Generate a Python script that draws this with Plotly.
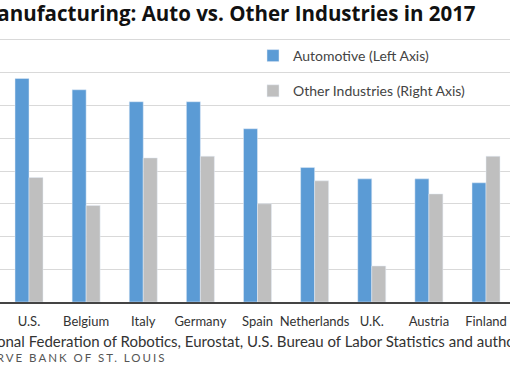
import plotly.graph_objects as go

countries = ["U.S.", "Belgium", "Italy", "Germany", "Spain", "Netherlands", "U.K.", "Austria", "Finland"]
automotive = [1365, 1296, 1223, 1223, 1058, 821, 752, 752, 728]
other_industries = [76, 59, 88, 89, 60, 74, 22, 66, 89]

BLUE = "#5b9bd5"
GRAY = "#bfbfbf"
FONT = "Lato"
W, H = 510, 382
T, B = 40, 80
PH = H - T - B

fig = go.Figure()
fig.add_trace(go.Bar(
    x=countries, y=automotive, name="Automotive (Left Axis)",
    marker_color=BLUE, width=0.245, offset=-0.245, yaxis="y",
    legendgroup="a",
))
fig.add_trace(go.Bar(
    x=countries, y=other_industries, name="Other Industries (Right Axis)",
    marker_color=GRAY, width=0.245, offset=0.0, yaxis="y2",
    legendgroup="b",
))

def py(px):
    return (T + PH - px) / PH

fig.update_layout(
    width=W, height=H,
    margin=dict(l=0, r=0, t=T, b=B),
    paper_bgcolor="white", plot_bgcolor="white",
    font=dict(family=FONT, color="#333", size=12),
    barmode="overlay",
    xaxis=dict(
        type="category", range=[-0.5077, 8.42],
        showgrid=False, showline=True, linecolor="#444", linewidth=2,
        ticks="", tickfont=dict(size=13, color="#333"), ticklabelstandoff=6,
    ),
    yaxis=dict(
        range=[0, 1600], dtick=200, showgrid=True, gridcolor="#d9d9d9",
        gridwidth=1, showticklabels=False, zeroline=False, ticks="",
    ),
    yaxis2=dict(
        range=[0, 160], dtick=20, overlaying="y", side="right",
        showgrid=False, showticklabels=False, zeroline=False, ticks="",
    ),
    showlegend=True,
    legend=dict(
        x=253 / W, xanchor="left", y=py(40), yanchor="top",
        bgcolor="rgba(0,0,0,0)", font=dict(size=14, color="#444", family=FONT),
        tracegroupgap=14, traceorder="grouped",
    ),
)

# light rule under the title (top edge of the grid)
fig.add_shape(
    type="line", xref="paper", yref="paper", x0=0, x1=1, y0=py(39.5), y1=py(39.5),
    line=dict(color="#d9d9d9", width=1), layer="above",
)

fig.add_annotation(
    text="<b>Manufacturing: Auto vs. Other Industries in 2017</b>",
    xref="paper", yref="paper", x=478 / W, y=py(13), xanchor="right", yanchor="middle",
    showarrow=False, font=dict(size=20.5, color="#111", family="Open Sans"),
)
fig.add_annotation(
    text="SOURCES: International Federation of Robotics, Eurostat, U.S. Bureau of Labor Statistics and authors' calculations.",
    xref="paper", yref="paper", x=-136 / W, y=py(341), xanchor="left", yanchor="middle",
    showarrow=False, font=dict(size=15, color="#333", family=FONT),
)
fig.add_annotation(
    text="FEDERAL RESERVE BANK OF ST. LOUIS",
    xref="paper", yref="paper", x=30 / W, y=py(357), xanchor="center", yanchor="middle",
    showarrow=False, font=dict(size=11.5, color="#555", family=FONT),
)

post = (
    "document.body.style.margin='0';"
    "document.querySelectorAll('.annotation-text').forEach(function(t){"
    "if(t.textContent.indexOf('FEDERAL')===0){t.style.letterSpacing='2px';}});"
)
fig.write_html("out.html", post_script=post, config={"displayModeBar": False})
